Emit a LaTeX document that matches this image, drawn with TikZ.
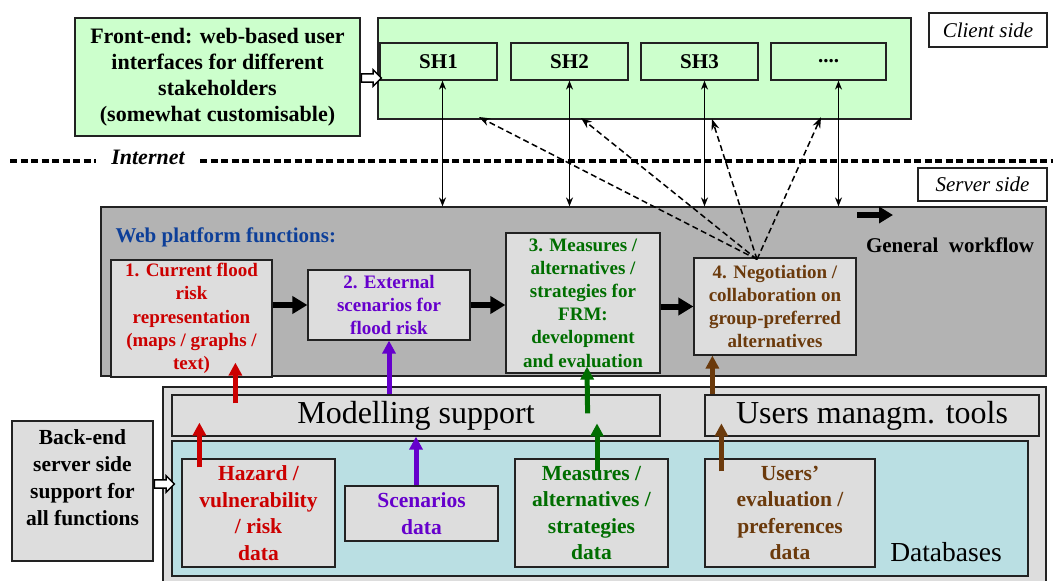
\documentclass[tikz,border=0pt]{standalone}
\usepackage{fontspec}
\setmainfont{Liberation Serif}
\usetikzlibrary{arrows.meta,calc,shapes.arrows}

\definecolor{lgreen}{HTML}{CCFFCC}
\definecolor{lgray}{HTML}{DDDDDD}
\definecolor{mgray}{HTML}{B3B3B3}
\definecolor{lcyan}{HTML}{BADFE3}
\definecolor{cred}{HTML}{CC0000}
\definecolor{cpurple}{HTML}{6600CC}
\definecolor{cgreen}{HTML}{006E00}
\definecolor{cbrown}{HTML}{6B3A0C}
\definecolor{cblue}{HTML}{0D3F99}
\definecolor{edge}{HTML}{222222}

\newcommand{\fsz}[2]{\fontsize{#1}{#2}\selectfont}

\tikzset{
  x=1pt, y=-1pt,
  box/.style={draw=edge, line width=1.2pt, inner sep=0pt, align=center},
  greenbox/.style={box, fill=lgreen},
  graybox/.style={box, fill=lgray},
  funclabel/.style={font=\fsz{19}{23.2}\bfseries},
  datalabel/.style={font=\fsz{21.5}{26.5}\bfseries},
  sidelabel/.style={box, fill=white, font=\fsz{21}{24}\itshape},
  link/.style={line width=1.4pt, {Stealth[length=9pt,width=7pt]}-{Stealth[length=9pt,width=7pt]}},
  dashlink/.style={line width=1.5pt, dash pattern=on 6pt off 3.5pt, -{Stealth[length=11pt,width=8pt]}},
  flow/.style={line width=6pt, -{Triangle[length=15pt,width=17pt]}},
  feed/.style={line width=5pt, -{Triangle[length=13pt,width=13pt]}},
  hollow/.style={single arrow, draw=black, line width=1.5pt, fill=white, inner sep=3.4pt,
    single arrow head extend=4pt, minimum height=20pt, anchor=tail},
  netline/.style={line width=3.5pt, dash pattern=on 7pt off 3.5pt}
}

\begin{document}
\begin{tikzpicture}
\useasboundingbox (0,0) rectangle (1053,581);

% ---------------- client side ----------------
\node[greenbox, minimum width=285pt, minimum height=118pt, font=\fsz{22}{26}\bfseries]
  (front) at (217.5,77) {Front-end: web-based user\\interfaces for different\\stakeholders\\(somewhat customisable)};
\node[greenbox, minimum width=533pt, minimum height=101pt] (client) at (644.5,68.5) {};
\node[greenbox, minimum width=117pt, minimum height=37pt, font=\fsz{21}{24}\bfseries] (sh1) at (438.5,61.5) {SH1};
\node[greenbox, minimum width=117pt, minimum height=37pt, font=\fsz{21}{24}\bfseries] (sh2) at (569.5,61.5) {SH2};
\node[greenbox, minimum width=117pt, minimum height=37pt, font=\fsz{21}{24}\bfseries] (sh3) at (699.5,61.5) {SH3};
\node[greenbox, minimum width=115pt, minimum height=37pt, font=\fsz{21}{24}\bfseries] (sh4) at (828.5,61.5) {....};
\node[sidelabel, minimum width=118pt, minimum height=34pt] (cside) at (988,30) {Client side};

\node[hollow] (frontarrow) at ([yshift=-1pt]front.east) {};

% ---------------- internet ----------------
\node[font=\fsz{22}{24}\bfseries\itshape] (inet) at (148,157) {Internet};
\coordinate (netA) at (10,161);
\coordinate (netB) at (1053,161);
\draw[netline] (netA) -- ([xshift=-12pt]inet.west |- netA);
\draw[netline] ([xshift=12pt]inet.east |- netB) -- (netB);

\node[sidelabel, minimum width=129pt, minimum height=33pt] (sside) at (982.5,184.5) {Server side};

% ---------------- web platform ----------------
\node[box, fill=mgray, minimum width=945pt, minimum height=169pt] (platform) at (573.5,291.5) {};
\node[anchor=west, text=cblue, font=\fsz{21}{24}\bfseries] (ptitle) at (112,237) {Web platform functions:};
\node[font=\fsz{21}{24}\bfseries] (wflabel) at (950,245) {General\ \ workflow};
\coordinate (wfA) at (857,215);
\coordinate (wfB) at (893,215);
\draw[flow, -{Triangle[length=14pt,width=16pt]}] (wfA) -- (wfB);

\node[graybox, minimum width=161pt, minimum height=117pt, funclabel, text=cred] (f1) at (191.5,318.5)
  {1. Current flood\\risk\\representation\\(maps / graphs /\\text)};
\node[graybox, minimum width=162pt, minimum height=70pt, funclabel, text=cpurple] (f2) at (389,305)
  {2. External\\scenarios for\\flood risk};
\node[graybox, minimum width=154pt, minimum height=140pt, funclabel, text=cgreen] (f3) at (583,303)
  {3. Measures /\\alternatives /\\strategies for\\FRM:\\development\\and evaluation};
\node[graybox, minimum width=162pt, minimum height=97pt, funclabel, text=cbrown] (f4) at (775,306.5)
  {4. Negotiation /\\collaboration on\\group-preferred\\alternatives};

\draw[flow] (f1.east |- f2.west) -- (f2.west);
\draw[flow] (f2.east) -- (f2.east -| f3.west);
\draw[flow] (f3.east |- f4.west) -- (f4.west);

% client <-> server links
\draw[link] ([xshift=4pt]sh1.south) -- ([xshift=4pt]sh1.south |- platform.north);
\draw[link] (sh2.south) -- (sh2.south |- platform.north);
\draw[link] ([xshift=5pt]sh3.south) -- ([xshift=5pt]sh3.south |- platform.north);
\draw[link] ([xshift=10pt]sh4.south) -- ([xshift=10pt]sh4.south |- platform.north);

% negotiation messages to the stakeholders
\coordinate (neg) at ([xshift=-18pt,yshift=-2pt]f4.north);
\coordinate (t1) at (479,117);
\coordinate (t2) at (581,118);
\coordinate (t3) at (712,119);
\coordinate (t4) at (821,117);
\foreach \t in {t1,t2,t3,t4} \draw[dashlink] (neg) -- (\t);

% ---------------- back-end ----------------
\node[graybox, minimum width=883pt, minimum height=200pt] (back) at (604.5,487) {};
\node[graybox, minimum width=488pt, minimum height=41pt, font=\fsz{32}{34}] (model) at (416,415.5) {Modelling support};
\node[graybox, minimum width=334pt, minimum height=41pt, font=\fsz{32}{34}] (users) at (872,415.5) {Users managm. tools};
\node[box, fill=lcyan, minimum width=856pt, minimum height=135pt] (db) at (600,508.5) {};
\node[font=\fsz{27.5}{30}] (dblabel) at (946,552) {Databases};

\node[graybox, minimum width=153pt, minimum height=108pt, datalabel, text=cred] (d1) at (258.5,513)
  {Hazard /\\vulnerability\\/ risk\\data};
\node[graybox, minimum width=153pt, minimum height=55pt, datalabel, text=cpurple] (d2) at (421.5,513.5)
  {Scenarios\\data};
\node[graybox, minimum width=153pt, minimum height=108pt, datalabel, text=cgreen] (d3) at (591.5,513)
  {Measures /\\alternatives /\\strategies\\data};
\node[graybox, minimum width=170pt, minimum height=108pt, datalabel, text=cbrown] (d4) at (790,513)
  {Users’\\evaluation /\\preferences\\data};

\node[graybox, minimum width=141pt, minimum height=140pt, datalabel, font=\fsz{21.5}{27}\bfseries] (backend) at (82.5,491)
  {Back-end\\server side\\support for\\all functions\\\mbox{}};
\node[hollow] (backarrow) at ([yshift=7pt]backend.east) {};

% data feeding the functions
\draw[feed, cred] ($(d1.north west)+(18,9)$) -- ($(model.south west)+(28,-14)$);
\draw[feed, cred] ($(model.north west)+(64,9)$) -- ($(f1.south west)+(125,-15)$);
\draw[feed, cpurple] (d2.north -| model.south) -- (model.south);
\draw[feed, cpurple] (model.north -| f2.south) -- (f2.south);
\draw[feed, cgreen] ($(d3.north)+(5.5,13)$) -- ($(d3.north)+(5.5,-35)$);
\draw[feed, cgreen] ($(model.north east)+(-73,19)$) -- ($(f3.south)+(4,-7)$);
\draw[feed, cbrown] ($(d4.north west)+(17,13)$) -- ($(d4.north west)+(17,-35)$);
\draw[feed, cbrown] ($(users.north west)+(8,0)$) -- ($(f4.south west)+(19,0)$);
\end{tikzpicture}
\end{document}
